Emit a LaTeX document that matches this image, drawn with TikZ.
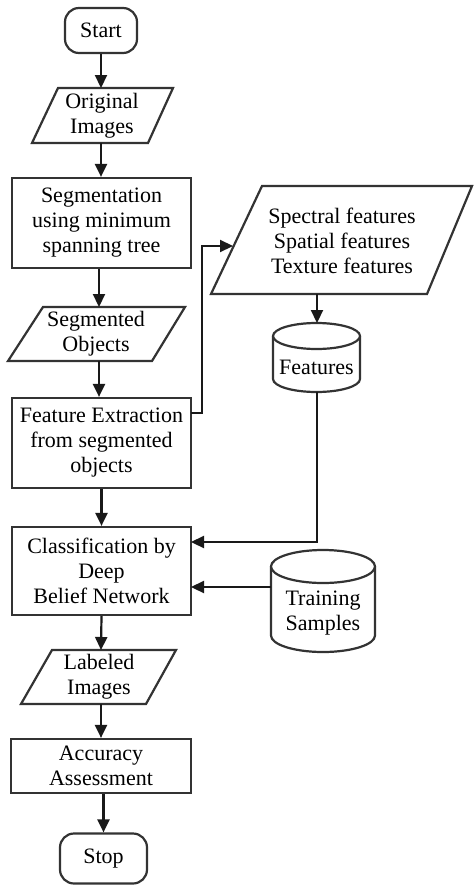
\documentclass[tikz,border=0pt]{standalone}
\usepackage{fontspec}
\setmainfont{Liberation Serif}
\usetikzlibrary{arrows.meta}
\begin{document}
\begin{tikzpicture}[x=1pt,y=1pt,
  shapeline/.style={draw=black!80, line width=2.2pt, fill=white},
  box/.style={shapeline, inner sep=0pt, align=center, font=\fontsize{22}{25}\selectfont},
  term/.style={box, rounded corners=14pt},
  lbl/.style={inner sep=0pt, align=center, font=\fontsize{22}{25}\selectfont},
  conn/.style={draw=black!90, line width=2.2pt},
  arr/.style={conn, -{Triangle[length=13pt,width=12pt]}},
]
\useasboundingbox (0,0) rectangle (475,-886);

% left column
\node[term, minimum width=72pt, minimum height=45pt] (start) at (101,-30.5) {Start};

\draw[shapeline] (58,-88) -- (173,-88) -- (148,-143) -- (32,-143) -- cycle;
\node[lbl] (orig) at (102,-115.5) {Original\\Images};
\coordinate (origT) at (101,-88);
\coordinate (origB) at (101,-143);

\node[box, minimum width=179pt, minimum height=90pt] (seg) at (101.5,-223) {Segmentation\\using minimum\\spanning tree};

\draw[shapeline] (43,-307) -- (185,-307) -- (152,-361) -- (8,-361) -- cycle;
\node[lbl] (sego) at (96,-334) {Segmented\\Objects};
\coordinate (segoT) at (99,-307);
\coordinate (segoB) at (99,-361);

\node[box, minimum width=179pt, minimum height=90pt] (fe) at (101.5,-443) {Feature Extraction\\from segmented\\objects};

\node[box, minimum width=179pt, minimum height=88pt] (cls) at (101.5,-571) {Classification by\\Deep\\Belief Network};

\draw[shapeline] (52,-650) -- (176,-650) -- (146,-704) -- (21,-704) -- cycle;
\node[lbl] (lab) at (99,-677) {Labeled\\Images};
\coordinate (labT) at (101,-650);
\coordinate (labB) at (101,-704);

\node[box, minimum width=180pt, minimum height=54pt] (acc) at (101,-766) {Accuracy\\Assessment};

\node[term, minimum width=87pt, minimum height=50pt] (stop) at (103.5,-858.5) {Stop};

% right column
\draw[shapeline] (262,-186) -- (472,-186) -- (427,-294) -- (211,-294) -- cycle;
\node[lbl] (spec) at (342,-241) {Spectral features\\Spatial features\\Texture features};
\coordinate (specL) at (233,-246);
\coordinate (specB) at (317,-294);

% Features cylinder
\draw[shapeline] (273,-336) -- (273,-379) arc[start angle=180,end angle=360,x radius=43.5,y radius=13] -- (360,-336);
\draw[shapeline] (316.5,-336) ellipse[x radius=43.5,y radius=13];
\node[lbl] (feat) at (316.5,-367) {Features};
\coordinate (featT) at (317,-323);
\coordinate (featB) at (317,-392);

% Training cylinder
\draw[shapeline] (271,-566.5) -- (271,-635.5) arc[start angle=180,end angle=360,x radius=52,y radius=16.5] -- (375,-566.5);
\draw[shapeline] (323,-566.5) ellipse[x radius=52,y radius=16.5];
\node[lbl] (train) at (323,-613) {Training\\Samples};
\coordinate (trainL) at (271,-587);

% connection points
\coordinate (feOut) at (191,-413);
\coordinate (clsIn1) at (191,-542);
\coordinate (clsIn2) at (191,-587);

% connectors
\draw[arr] (start.south) -- (origT);
\draw[arr] (origB) -- (seg.north -| origB);
\draw[arr] (seg.south -| segoT) -- (segoT);
\draw[arr] (segoB) -- (fe.north -| segoB);
\draw[arr] (fe.south) -- (cls.north);
\draw[arr] (cls.south) -- (labT);
\draw[arr] (labB) -- (acc.north -| labB);
\draw[arr] (acc.south -| stop.north) -- (stop.north);

\draw[arr] (feOut) -- (202,-413) -- (202,-246) -- (specL);
\draw[arr] (specB) -- (featT);
\draw[arr] (featB) -- (317,-542) -- (clsIn1);
\draw[arr] (trainL) -- (clsIn2);
\end{tikzpicture}
\end{document}
